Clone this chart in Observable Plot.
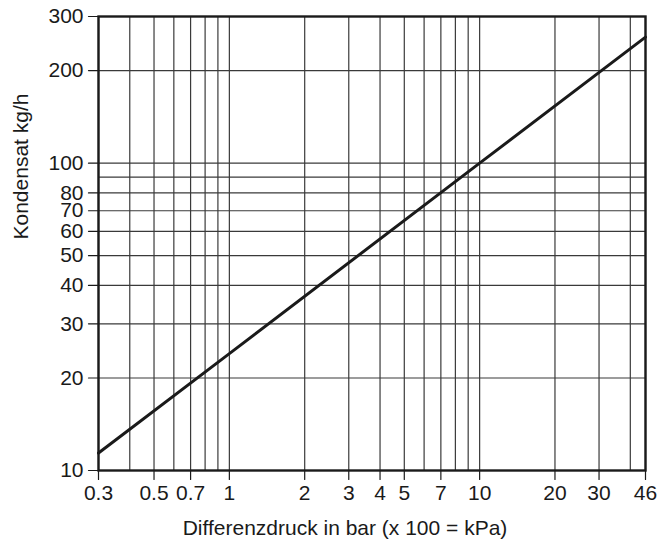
<!DOCTYPE html>
<html>
<head>
<meta charset="utf-8">
<script src="https://cdn.jsdelivr.net/npm/d3@7"></script>
<script src="https://cdn.jsdelivr.net/npm/@observablehq/plot@0.6"></script>
<style>
  html, body { margin: 0; padding: 0; background: #fff; }
  #chart { width: 659px; height: 542px; }
</style>
</head>
<body>
<div id="chart"></div>
<script>
// Data (log-log straight line)
const pressure = [0.3, 1, 10, 46];          // Differenzdruck in bar
const condensate = [11.4, 24, 100, 257];    // Kondensat kg/h

// Grid lines and tick labels
const xGrid = [0.3, 0.4, 0.5, 0.6, 0.7, 0.8, 0.9, 1, 2, 3, 4, 5, 6, 7, 8, 9, 10, 20, 30, 40, 46];
const yGrid = [10, 20, 30, 40, 50, 60, 70, 80, 90, 100, 200, 300];
const xTicks = [0.3, 0.5, 0.7, 1, 2, 3, 4, 5, 7, 10, 20, 30, 46];
const yTicks = [10, 20, 30, 40, 50, 60, 70, 80, 100, 200, 300];

const xLabel = "Differenzdruck in bar (x 100 = kPa)";
const yLabel = "Kondensat kg/h";

const data = pressure.map((p, i) => ({p, c: condensate[i]}));

// straight tick shape for vector marks
const tickShape = {
  draw(context, l) { context.moveTo(0, 0); context.lineTo(0, -l); }
};

const ink = "#1a1a1a";

const chart = Plot.plot({
  width: 659,
  height: 542,
  marginLeft: 98,
  marginRight: 14,
  marginTop: 16,
  marginBottom: 72,
  style: {
    fontFamily: "'Liberation Sans', Arial, Helvetica, sans-serif",
    fontSize: "21px",
    background: "#fff",
    color: ink,
    overflow: "visible"
  },
  x: {type: "log", domain: [0.3, 46], axis: null},
  y: {type: "log", domain: [10, 300], axis: null},
  marks: [
    Plot.ruleX(xGrid, {stroke: "#3a3a3a", strokeWidth: 1.2}),
    Plot.ruleY(yGrid, {stroke: "#3a3a3a", strokeWidth: 1.2}),
    Plot.frame({stroke: ink, strokeWidth: 2.4}),
    Plot.line(data, {x: "p", y: "c", stroke: ink, strokeWidth: 3}),
    // x axis ticks + labels
    Plot.vector(xTicks, {
      x: d => d, frameAnchor: "bottom", anchor: "start", rotate: 180,
      length: 9, shape: tickShape, stroke: ink, strokeWidth: 1.2
    }),
    Plot.text(xTicks, {
      x: d => d, frameAnchor: "bottom", dy: 15, lineAnchor: "top",
      text: d => String(d), fontSize: 21, fill: ink
    }),
    // y axis ticks + labels
    Plot.vector(yTicks, {
      y: d => d, frameAnchor: "left", anchor: "start", rotate: -90,
      length: 10, shape: tickShape, stroke: ink, strokeWidth: 1.2
    }),
    Plot.text(yTicks, {
      y: d => d, frameAnchor: "left", dx: -15, textAnchor: "end",
      text: d => String(d), fontSize: 21, fill: ink
    }),
    // axis titles
    Plot.text([xLabel], {
      text: d => d, frameAnchor: "bottom", dx: -27, dy: 50, lineAnchor: "top",
      fontSize: 21, fill: ink
    }),
    Plot.text([yLabel], {
      text: d => d, frameAnchor: "left", dx: -85, dy: -4, rotate: -90, lineAnchor: "top",
      fontSize: 21, fill: ink
    })
  ]
});
document.getElementById("chart").appendChild(chart);
</script>
</body>
</html>
